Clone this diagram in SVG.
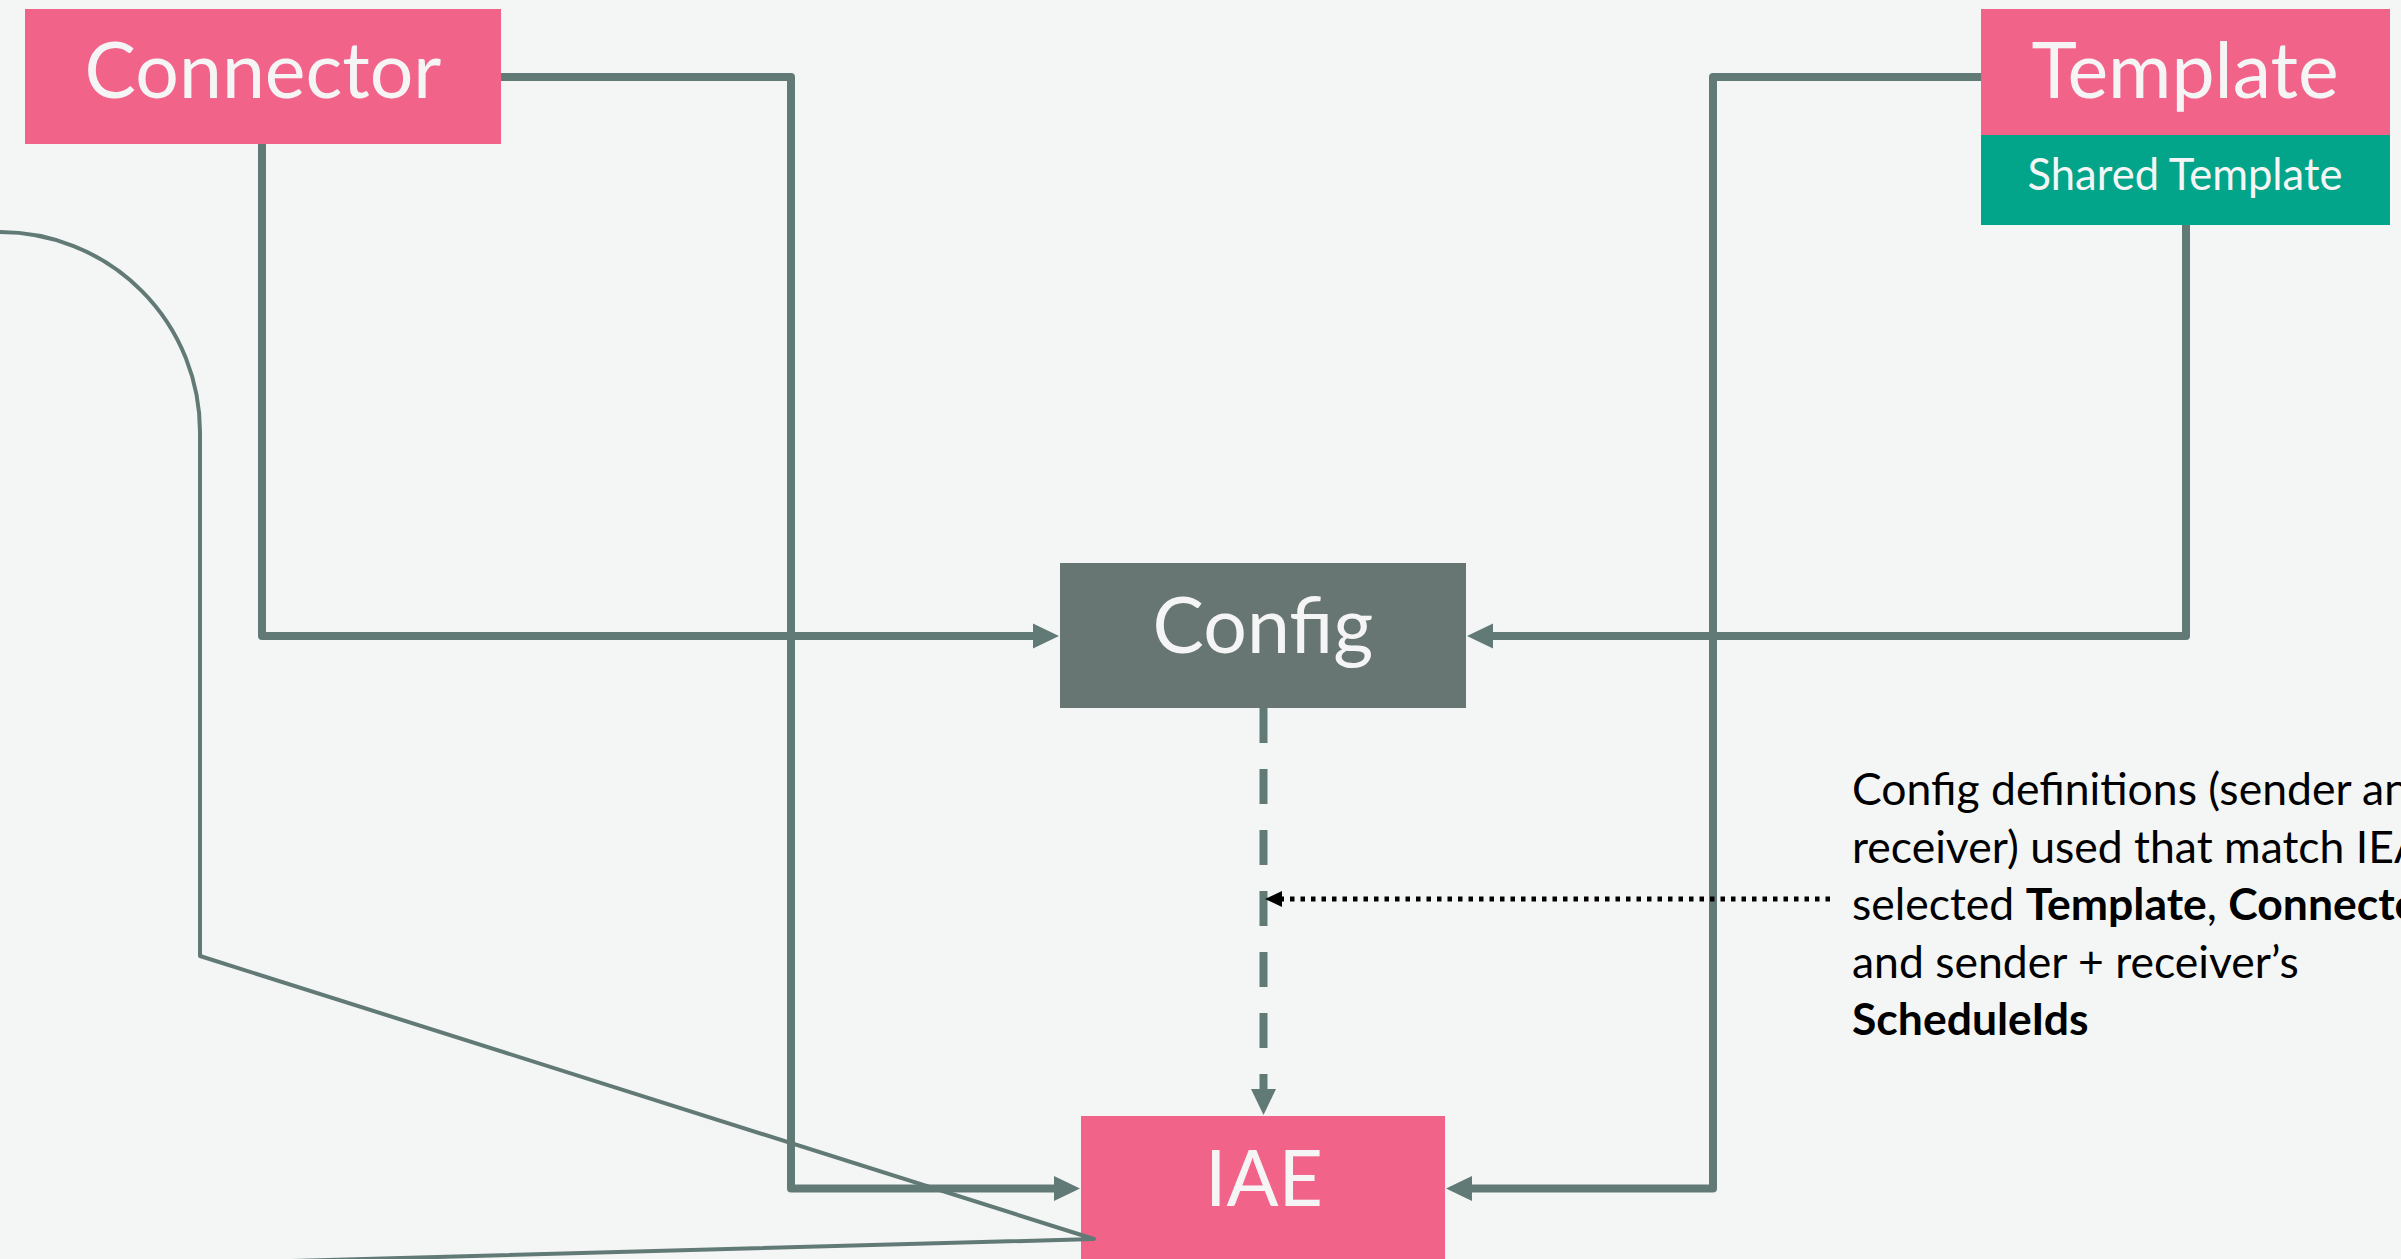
<svg xmlns="http://www.w3.org/2000/svg" width="2401" height="1259" viewBox="0 0 2401 1259">
<style>
.bg{fill:#F4F6F5}
.pink{fill:#F2638A}
.teal{fill:#02A58A}
.gray{fill:#677573}
.lbl{font-family:Lato,"Open Sans","Liberation Sans",sans-serif;fill:#F5F5F5;text-anchor:middle}
.big{font-size:77px}
.small{font-size:43.5px}
.conn{fill:none;stroke:#627A76;stroke-width:8;stroke-linejoin:round}
.dash{stroke-dasharray:35 26}
.thin{fill:none;stroke:#627A76;stroke-width:4;stroke-linejoin:round;stroke-linecap:round}
.dot{fill:none;stroke:#000;stroke-width:5;stroke-dasharray:4.5 6}
.note{font-family:Lato,"Open Sans","Liberation Sans",sans-serif;font-size:44.5px;fill:#000}
</style>
<defs>
<marker id="ah" markerUnits="userSpaceOnUse" markerWidth="27" markerHeight="26" viewBox="0 -13 27 26" refX="1" refY="0" orient="auto">
<path d="M0,-12.5 L26,0 L0,12.5 z" fill="#627A76"/>
</marker>
<marker id="ahk" markerUnits="userSpaceOnUse" markerWidth="18" markerHeight="18" viewBox="0 -9 18 18" refX="1" refY="0" orient="auto">
<path d="M0,-8 L17,0 L0,8 z" fill="#000"/>
</marker>
</defs>
<rect class="bg" x="0" y="0" width="2401" height="1259"/>

<g id="connectors">
<path class="conn" d="M262,144 V636 H1034" marker-end="url(#ah)"/>
<path class="conn" d="M500,77 H791 V1188.5 H1055" marker-end="url(#ah)"/>
<path class="conn" d="M2186,225 V636 H1492" marker-end="url(#ah)"/>
<path class="conn" d="M1981,77 H1713 V1188.5 H1471" marker-end="url(#ah)"/>
<path class="conn dash" d="M1263.5,708 V1090" marker-end="url(#ah)"/>
<path class="dot" d="M1830,899 H1281" marker-end="url(#ahk)"/>
</g>

<g id="node-connector">
<rect class="pink" x="25" y="9" width="476" height="135"/>
<text class="lbl big" x="263" y="98">Connector</text>
</g>

<g id="node-template">
<rect class="pink" x="1981" y="9" width="409" height="127"/>
<text class="lbl big" x="2185" y="98">Template</text>
<rect class="teal" x="1981" y="135" width="409" height="90"/>
<text class="lbl small" x="2185" y="190">Shared Template</text>
</g>

<g id="node-config">
<rect class="gray" x="1060" y="563" width="406" height="145"/>
<text class="lbl big" x="1263" y="653">Config</text>
</g>

<g id="node-iae">
<rect class="pink" x="1081" y="1116" width="364" height="160"/>
<text class="lbl big" x="1264" y="1206">IAE</text>
</g>

<g id="thin-line">
<path class="thin" d="M0,232 A200,200 0 0 1 200,432 V956 L1094,1239 L0,1269"/>
</g>

<g id="note">
<text class="note" x="1852" y="805">Config definitions (sender and</text>
<text class="note" x="1852" y="862.5">receiver) used that match IEA’s</text>
<text class="note" x="1852" y="920">selected <tspan font-weight="bold">Template</tspan>, <tspan font-weight="bold">Connector</tspan></text>
<text class="note" x="1852" y="977.5">and sender + receiver’s</text>
<text class="note" x="1852" y="1035" font-weight="bold">ScheduleIds</text>
</g>
</svg>
